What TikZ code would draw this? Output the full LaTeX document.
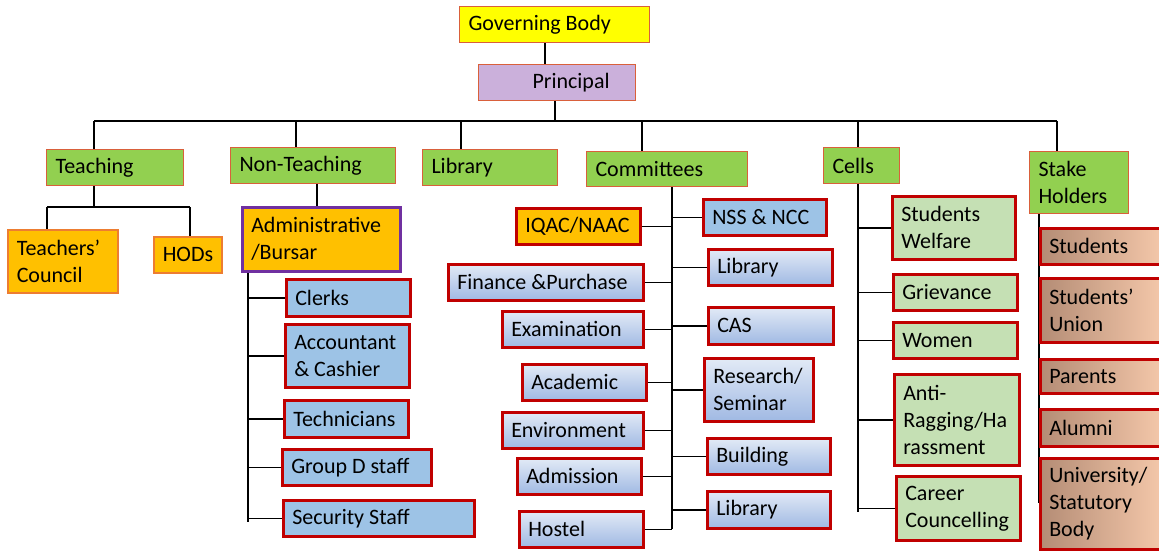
\documentclass[tikz,border=0pt]{standalone}
\usepackage{fontspec}
\setmainfont{Carlito}
\usetikzlibrary{backgrounds}
\definecolor{gbyel}{HTML}{FFFF00}
\definecolor{thinred}{HTML}{D9603B}
\definecolor{prinfill}{HTML}{CBB0DB}
\definecolor{lgreen}{HTML}{92D050}
\definecolor{orfill}{HTML}{FFC000}
\definecolor{orline}{HTML}{ED7D31}
\definecolor{purp}{HTML}{7030A0}
\definecolor{dred}{HTML}{C00000}
\definecolor{sblue}{HTML}{9DC3E6}
\definecolor{ctop}{HTML}{E2EAF6}
\definecolor{cbot}{HTML}{A0B9E3}
\definecolor{cellg}{HTML}{C5E0B4}
\definecolor{stl}{HTML}{B48C75}
\definecolor{str}{HTML}{F8CBAD}
\tikzset{
  box/.style={rectangle, inner xsep=9pt, inner ysep=3pt, align=flush left, text=black,
    font=\fontsize{22}{27}\selectfont},
  gbbox/.style={fill=gbyel, draw=thinred, line width=1pt},
  prbox/.style={fill=prinfill, draw=thinred, line width=1pt},
  lvlone/.style={fill=lgreen, draw=thinred, line width=1pt},
  tchbox/.style={fill=orfill, draw=orline, line width=1.5pt},
  adbox/.style={fill=orfill, draw=purp, line width=2.5pt},
  staff/.style={fill=sblue, draw=dred, line width=2.5pt},
  iqbox/.style={fill=orfill, draw=dred, line width=2.5pt},
  cgrad/.style={top color=ctop, bottom color=cbot, draw=dred, line width=2.5pt},
  cellbox/.style={fill=cellg, draw=dred, line width=2.5pt},
  stbox/.style={left color=stl, right color=str, draw=dred, line width=2.5pt},
  conn/.style={draw=black, line width=1.5pt},
}
\newcommand\bx[7]{%
  \pgfmathsetmacro\bxw{#5-#3}%
  \pgfmathsetmacro\bxh{#6-#4}%
  \pgfmathsetmacro\bxt{#5-#3-18}%
  \node[box,#1,anchor=north west,minimum width=\bxw pt,minimum height=\bxh pt,text width=\bxt pt] (#2) at (#3,#4) {#7};}
\begin{document}
\begin{tikzpicture}[x=1pt,y=-1pt]
\useasboundingbox (0,0) rectangle (1159,550);
\clip (0,0) rectangle (1159,550);
% top
\bx{gbbox}{gb}{459}{6}{649}{42}{Governing Body}
\bx{prbox}{prin}{478}{64}{635}{100}{\hspace*{45pt}Principal}
% level one
\bx{lvlone}{teach}{46}{149}{183}{185}{Teaching}
\bx{lvlone}{nt}{230}{147}{395}{183}{Non-Teaching}
\bx{lvlone}{lib}{422}{149}{557}{185}{Library}
\bx{lvlone}{com}{586}{151}{747}{186}{Committees}
\bx{lvlone}{cells}{823}{147}{899}{183}{Cells}
\bx{lvlone}{sh}{1029}{151}{1128}{213}{Stake\\Holders}
% teaching
\bx{tchbox}{tc}{7}{229}{117}{292}{Teachers’\\Council}
\bx{tchbox}{hod}{153}{236}{221}{272}{HODs}
% non-teaching
\bx{adbox}{admin}{241}{206}{399}{270}{Administrative\\/Bursar}
\bx{staff}{clerks}{285}{278}{409}{315}{Clerks}
\bx{staff}{acc}{284}{323}{408}{386}{Accountant\\\& Cashier}
\bx{staff}{tech}{283}{399}{407}{436}{Technicians}
\bx{staff}{grpd}{281}{448}{430}{484}{Group D staff}
\bx{staff}{sec}{282}{499}{473}{535}{Security Staff}
% committees
\bx{iqbox}{iqac}{515}{207}{639}{243}{IQAC/NAAC}
\bx{staff}{nss}{702}{198}{825}{234}{NSS \& NCC}
\bx{cgrad}{libone}{707}{248}{831}{284}{Library}
\bx{cgrad}{fin}{447}{263}{642}{299}{Finance \&Purchase}
\bx{cgrad}{exam}{501}{310}{642}{346}{Examination}
\bx{cgrad}{cas}{707}{306}{832}{343}{CAS}
\bx{cgrad}{acad}{521}{363}{645}{399}{Academic}
\bx{cgrad}{res}{703}{357}{812}{420}{Research/\\Seminar}
\bx{cgrad}{env}{501}{411}{642}{447}{Environment}
\bx{cgrad}{bldg}{706}{437}{829}{473}{Building}
\bx{cgrad}{adm}{516}{457}{640}{493}{Admission}
\bx{cgrad}{libtwo}{706}{490}{829}{527}{Library}
\bx{cgrad}{hostel}{518}{510}{642}{546}{Hostel}
% cells
\bx{cellbox}{sw}{891}{195}{1014}{258}{Students\\Welfare}
\bx{cellbox}{grv}{892}{273}{1016}{309}{Grievance}
\bx{cellbox}{wom}{892}{321}{1016}{357}{Women}
\bx{cellbox}{anti}{893}{373}{1018}{464}{Anti-\\Ragging/Ha\\rassment}
\bx{cellbox}{car}{895}{475}{1019}{539}{Career\\Councelling}
% stake holders
\bx{stbox}{stu}{1039}{227}{1168}{263}{Students}
\bx{stbox}{su}{1039}{277}{1168}{341}{Students’\\Union}
\bx{stbox}{par}{1039}{358}{1168}{392}{Parents}
\bx{stbox}{alu}{1039}{408}{1168}{445}{Alumni}
\bx{stbox}{uni}{1039}{457}{1168}{548}{University/\\Statutory\\Body}
% connectors
\begin{pgfonlayer}{background}
\coordinate (busl) at (94,121);
\coordinate (busr) at (1057,121);
\coordinate (bnt) at (296,121);
\coordinate (blib) at (461,121);
\coordinate (bcom) at (642,121);
\coordinate (bcell) at (858,121);
\coordinate (gbx) at (545,0);
\coordinate (prx) at (555,0);
\draw[conn] (gb.south -| gbx) -- (gbx |- prin.north);
\draw[conn] (prin.south -| prx) -- (prx |- busl);
\draw[conn] (busl) -- (busr);
\draw[conn] (busl) -- (busl |- teach.north);
\draw[conn] (bnt) -- (bnt |- nt.north);
\draw[conn] (blib) -- (blib |- lib.north);
\draw[conn] (bcom) -- (bcom |- com.north);
\draw[conn] (bcell) -- (bcell |- cells.north);
\draw[conn] (busr) -- (busr |- sh.north);
% teaching
\coordinate (tl) at (47,207);
\coordinate (tr) at (190,207);
\draw[conn] (busl |- teach.south) -- (busl |- tl);
\draw[conn] (tl) -- (tr);
\draw[conn] (tl) -- (tl |- tc.north);
\draw[conn] (tr) -- (tr |- hod.north);
% non-teaching
\coordinate (ntx) at (317,0);
\draw[conn] (nt.south -| ntx) -- (ntx |- admin.north);
\coordinate (av) at (248,522);
\draw[conn] (admin.south -| av) -- (av);
\foreach \n in {clerks,acc,tech,grpd,sec} {\draw[conn] (av |- \n.west) -- (\n.west);}
% committees
\coordinate (cv) at (672,0);
\draw[conn] (com.south -| cv) -- (cv |- hostel.east);
\foreach \n in {iqac,fin,exam,acad,env,adm,hostel} {\draw[conn] (cv |- \n.east) -- (\n.east);}
\foreach \n in {nss,libone,cas,res,bldg,libtwo} {\draw[conn] (cv |- \n.west) -- (\n.west);}
% cells
\coordinate (clv) at (858,512);
\draw[conn] (cells.south -| clv) -- (clv);
\foreach \n in {sw,grv,wom,anti,car} {\draw[conn] (clv |- \n.west) -- (\n.west);}
% stake holders
\coordinate (sv) at (1039,503);
\draw[conn] (sh.south -| sv) -- (sv);
\end{pgfonlayer}
\end{tikzpicture}
\end{document}
